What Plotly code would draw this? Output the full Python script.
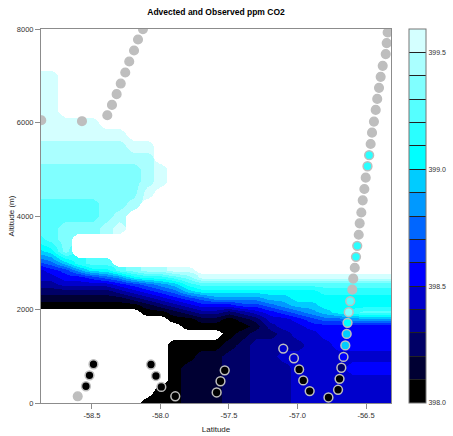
import numpy as np
import plotly.graph_objects as go

# ---- advected CO2 field (levels 0-f = 0.1 ppm bins starting at 398.0, '.' = no data) ----
latitudes = [-58.9, -58.8, -58.7, -58.6, -58.5, -58.4, -58.3, -58.2, -58.1, -58.0,
             -57.9, -57.8, -57.7, -57.6, -57.5, -57.4, -57.3, -57.2, -57.1, -57.0,
             -56.9, -56.8, -56.7, -56.6, -56.5, -56.4, -56.3]
altitudes = [8000, 7750, 7500, 7250, 7000, 6750, 6500, 6250, 6000, 5750, 5500, 5250,
             5000, 4750, 4500, 4250, 4000, 3750, 3500, 3250, 3000, 2850, 2700, 2550,
             2400, 2250, 2100, 1950, 1800, 1650, 1500, 1250, 1000, 750, 500, 250, 0]
co2_levels = [
    "...........................",
    "...........................",
    "...........................",
    "...........................",
    "ff.........................",
    "ff.........................",
    "ff.........................",
    "ff.........................",
    "fffff......................",
    "fffffff....................",
    "eeeeeeeff..................",
    "eeeeeeeee..................",
    "ddddddddef.................",
    "ddddddddef.................",
    "ddddddddf..................",
    "cccccdde...................",
    "cccccde....................",
    "ccdddef....................",
    "bcd........................",
    "9ad........................",
    "679bcc.....................",
    "4568aacdeeff...............",
    "4455678abbcdfffffffffffffff",
    "33444456789bccccccccccccccc",
    "222222345679aaaaaaaaabbbbbb",
    "1111111234567888899aaaaaaaa",
    "000000001234555667899aaaaaa",
    "........0012332345678 9abccc".replace(" ", ""),
    "..........00110124456778888",
    "...........0000013445555555",
    "..............0122344555555",
    "..........00001233334455555",
    "..........00112233444444444",
    "..........01112233344445555",
    "..........01112233344444444",
    ".........001112233344444444",
    "........0001112233344444444",
]
LEVEL_BASE = 398.0
LEVEL_STEP = 0.1

# ---- observed CO2 along the flight track ----
obs_lat = [-58.489, -58.518, -58.544, -58.069, -58.033, -57.994, -57.892, -57.531,
           -57.562, -57.590, -57.104, -57.026, -56.988, -56.958, -56.911, -56.774,
           -56.704, -56.693, -56.680, -56.664, -56.651, -56.641, -56.635, -56.626,
           -56.615, -56.573, -56.564, -56.489, -56.477]
obs_alt = [829, 593, 358, 823, 578, 343, 144, 700, 465, 225, 1165, 957, 718, 482, 255,
           118, 283, 518, 754, 985, 1232, 1478, 1714, 1943, 2178, 3127, 3363, 5064, 5301]
obs_co2 = [398.06, 398.04, 398.07, 398.05, 398.03, 398.06, 398.08, 398.05, 398.07,
           398.04, 398.46, 398.43, 398.06, 398.04, 398.07, 398.05, 398.03, 398.06,
           398.27, 398.57, 398.94, 398.96, 399.04, 399.34, 399.26, 399.14, 399.13,
           399.15, 399.12]

# flight-track samples with no CO2 measurement
miss_lat = [-58.604, -58.870, -58.573, -58.388, -58.354, -58.320, -58.290, -58.257,
            -58.228, -58.193, -58.164, -58.128, -56.600, -56.593, -56.582, -56.553,
            -56.546, -56.534, -56.524, -56.512, -56.502, -56.466, -56.456, -56.442,
            -56.429, -56.418, -56.405, -56.393, -56.378, -56.356, -56.349, -56.342]
miss_alt = [143, 6049, 6028, 6156, 6377, 6606, 6833, 7069, 7304, 7540, 7775, 7998,
            2425, 2660, 2892, 3599, 3843, 4074, 4335, 4577, 4820, 5541, 5783, 6019,
            6270, 6505, 6741, 6977, 7212, 7463, 7698, 7925]

# ---- colour scale: black -> blue -> cyan -> pale cyan, 16 bins ----
BIN_COLORS = ["#000000", "#000033", "#000066", "#000099", "#0000CC", "#0000FF",
              "#0033FF", "#0066FF", "#0099FF", "#00CCFF", "#00FFFF", "#2AFFFF",
              "#55FFFF", "#80FFFF", "#AAFFFF", "#D4FFFF"]
ZMIN, ZMAX = 398.0, 399.6
x_ticks = [-58.5, -58.0, -57.5, -57.0, -56.5]
x_ticktext = ["-58.5", "-58.0", "-57.5", "-57.0", "-56.5"]
y_ticks = [0, 2000, 4000, 6000, 8000]
y_ticktext = ["0", "2000", "4000", "6000", "8000"]
cb_labels = {398.0: "398.0", 398.5: "398.5", 399.0: "399.0", 399.5: "399.5"}

n = len(BIN_COLORS)
colorscale = []
for k, c in enumerate(BIN_COLORS):
    colorscale.append([k / n, c])
    colorscale.append([(k + 1) / n, c])

# decode the level map
z = np.full((len(altitudes), len(latitudes)), np.nan)
for i, row in enumerate(co2_levels):
    for j, ch in enumerate(row):
        if ch != ".":
            z[i, j] = LEVEL_BASE + LEVEL_STEP * (int(ch, 16) + 0.5)
nodata = np.isnan(z)

# cells without data are hidden under a white mask; pad them with the nearest
# value in the same column so the bands stay clean right up to the mask edge
z_shown = z.copy()
for j in range(z.shape[1]):
    good = np.where(~nodata[:, j])[0]
    for i in np.where(nodata[:, j])[0]:
        z_shown[i, j] = z[good[np.argmin(np.abs(good - i))], j]

tick_vals = [round(ZMIN + LEVEL_STEP * k, 1) for k in range(n + 1)]
tick_text = [cb_labels.get(v, "") for v in tick_vals]

FONT = "Liberation Sans, Arial, sans-serif"

fig = go.Figure()
fig.add_trace(go.Heatmap(
    x=latitudes, y=altitudes, z=z_shown, zsmooth="best",
    colorscale=colorscale, zmin=ZMIN, zmax=ZMAX, hoverinfo="skip",
    colorbar=dict(
        x=1.05, xanchor="left", xpad=0, y=0.5, yanchor="middle", ypad=0,
        len=1, lenmode="fraction", thickness=17,
        outlinecolor="#777777", outlinewidth=1,
        tickmode="array", tickvals=tick_vals, ticktext=tick_text,
        ticks="inside", ticklen=17, tickwidth=1, tickcolor="#222222",
        tickfont=dict(family=FONT, size=7, color="#333333"),
    ),
))
fig.add_trace(go.Heatmap(
    x=latitudes, y=altitudes, z=nodata.astype(float), zsmooth="best",
    colorscale=[[0, "rgba(255,255,255,0)"], [0.5, "rgba(255,255,255,0)"],
                [0.5, "rgba(255,255,255,1)"], [1, "rgba(255,255,255,1)"]],
    zmin=0, zmax=1, showscale=False, hoverinfo="skip",
))
fig.add_trace(go.Scatter(
    x=miss_lat, y=miss_alt, mode="markers", hoverinfo="skip",
    marker=dict(size=8.8, color="#BEBEBE", line=dict(color="#BEBEBE", width=1.3)),
))
fig.add_trace(go.Scatter(
    x=obs_lat, y=obs_alt, mode="markers", hoverinfo="skip",
    marker=dict(size=8.8, color=obs_co2, colorscale=colorscale, cmin=ZMIN, cmax=ZMAX,
                showscale=False, line=dict(color="#BEBEBE", width=1.5)),
))

axis_common = dict(
    showgrid=False, zeroline=False, showline=True, linecolor="#8C8C8C", linewidth=1,
    mirror=True, ticks="outside", ticklen=5, tickwidth=1, tickcolor="#8C8C8C",
    tickfont=dict(family=FONT, size=7.5, color="#333333"),
)
fig.update_xaxes(range=[-58.872, -56.3175], tickmode="array", tickvals=x_ticks,
                 ticktext=x_ticktext,
                 title=dict(text="Latitude", font=dict(family=FONT, size=8, color="#222222"),
                            standoff=7),
                 **axis_common)
fig.update_yaxes(range=[0, 8000], tickmode="array", tickvals=y_ticks,
                 ticktext=y_ticktext,
                 title=dict(text="Altitude (m)", font=dict(family=FONT, size=8, color="#222222"),
                            standoff=1),
                 **axis_common)
fig.update_layout(
    width=453, height=436,
    margin=dict(l=41, r=62, t=29, b=33, autoexpand=False),
    paper_bgcolor="white", plot_bgcolor="white",
    showlegend=False,
    title=dict(text="Advected and Observed ppm CO2", x=0.5, xref="paper", xanchor="center",
               y=1 - 12 / 436, yref="container", yanchor="middle",
               font=dict(family=FONT, size=8.5, color="#000000", weight="bold")),
)
fig.write_html("out.html")
